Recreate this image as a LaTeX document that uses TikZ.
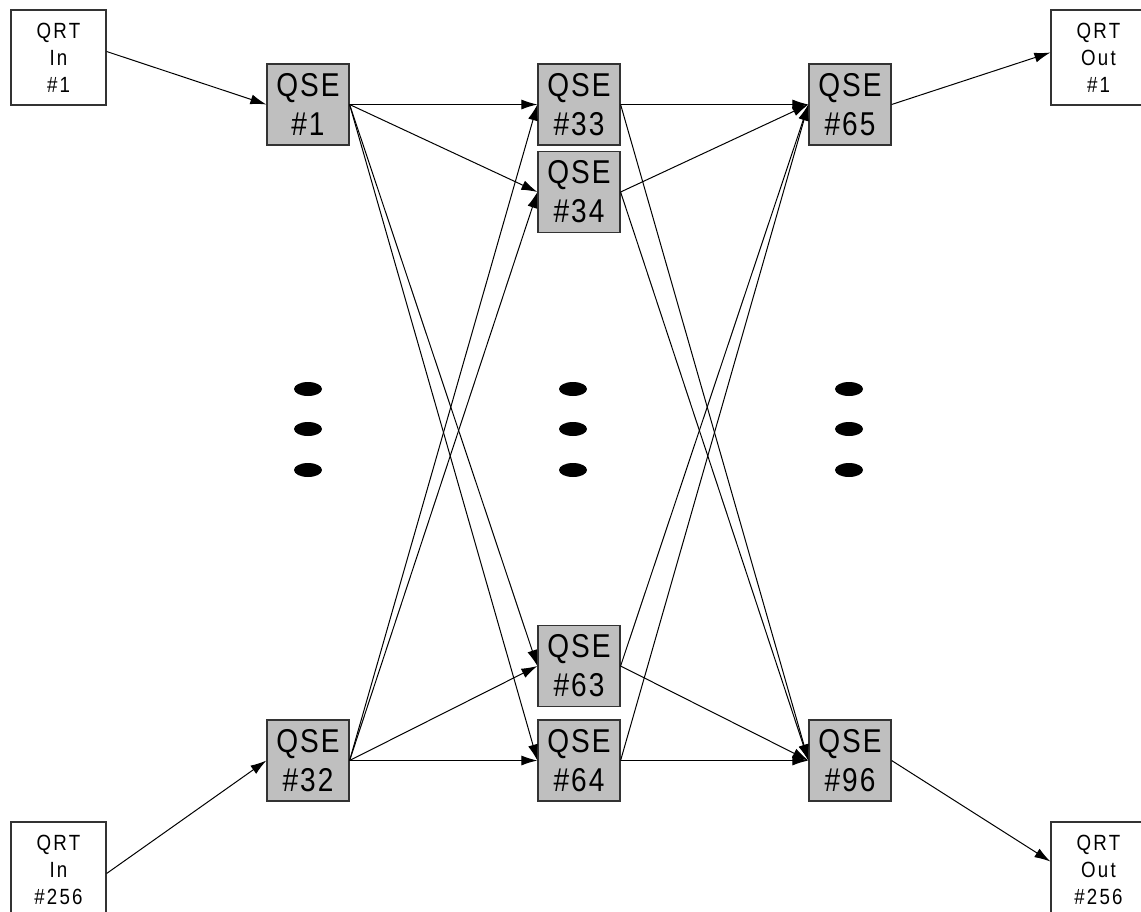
\documentclass[tikz,border=0pt]{standalone}
\usepackage{fontspec}
\setmainfont{Liberation Sans}
\newfontfamily\qsefont[FakeStretch=0.85, LetterSpace=6]{Liberation Sans}
\newfontfamily\qrtfont[FakeStretch=0.85, LetterSpace=10]{Liberation Sans}
\usepackage{tikz}
\usetikzlibrary{positioning,arrows.meta}

\tikzset{
  qse/.style={draw=black!80, fill=black!25, line width=0.6pt, inner sep=0pt,
    minimum width=41pt, minimum height=40.5pt, align=center,
    font=\qsefont\fontsize{16.5}{19.5}\selectfont},
  qrt/.style={draw=black!80, fill=white, line width=0.6pt, inner sep=0pt,
    minimum size=47.5pt, align=center,
    font=\qrtfont\fontsize{11}{13.5}\selectfont},
  link/.style={->, line width=0.5pt}
}

\begin{document}
\begin{tikzpicture}[x=0.5pt, y=-0.5pt, node distance=135.5pt,
    >={Latex[length=8pt,width=5pt]}]
  \useasboundingbox (0,0) rectangle (1141,911);
  \clip (0,0) rectangle (1141,911);

  % switching elements, first and last row
  \node[qse] (s1) at (308,104.5) {QSE\\\#1};
  \node[qse] (s33) [right of=s1] {QSE\\\#33};
  \node[qse] (s65) [right of=s33] {QSE\\\#65};
  \node[qse] (s34) [below of=s33, node distance=43.75pt] {QSE\\\#34};
  \node[qse] (s32) at (308,760.5) {QSE\\\#32};
  \node[qse] (s64) [right of=s32] {QSE\\\#64};
  \node[qse] (s96) [right of=s64] {QSE\\\#96};
  \node[qse] (s63) [above of=s64, node distance=47.25pt] {QSE\\\#63};

  % router ports
  \node[qrt] (in1) at (58.5,57.5) {QRT\\In\\\#1};
  \node[qrt] (in256) at (58.5,869.5) {QRT\\In\\\#256};
  \node[qrt] (out1) at (1098.5,57.5) {QRT\\Out\\\#1};
  \node[qrt] (out256) at (1098.5,869.5) {QRT\\Out\\\#256};

  % elided rows
  \foreach \x in {308,573,849}
    \foreach \y in {389,429,470}
      \fill (\x,\y) ellipse [x radius=7pt, y radius=3.5pt];

  \foreach \a in {s1,s32}
    \foreach \b in {s33,s34,s63,s64}
      \draw[link] (\a.east) -- (\b.west);
  \foreach \a in {s33,s34,s63,s64}
    \foreach \b in {s65,s96}
      \draw[link] (\a.east) -- (\b.west);

  \draw[link] ([yshift=3pt]in1.east) -- (s1.west);
  \draw[link] ([yshift=-2pt]in256.east) -- (s32.west);
  \draw[link] (s65.east) -- ([yshift=2.5pt]out1.west);
  \draw[link] (s96.east) -- ([yshift=4pt]out256.west);
\end{tikzpicture}
\end{document}
